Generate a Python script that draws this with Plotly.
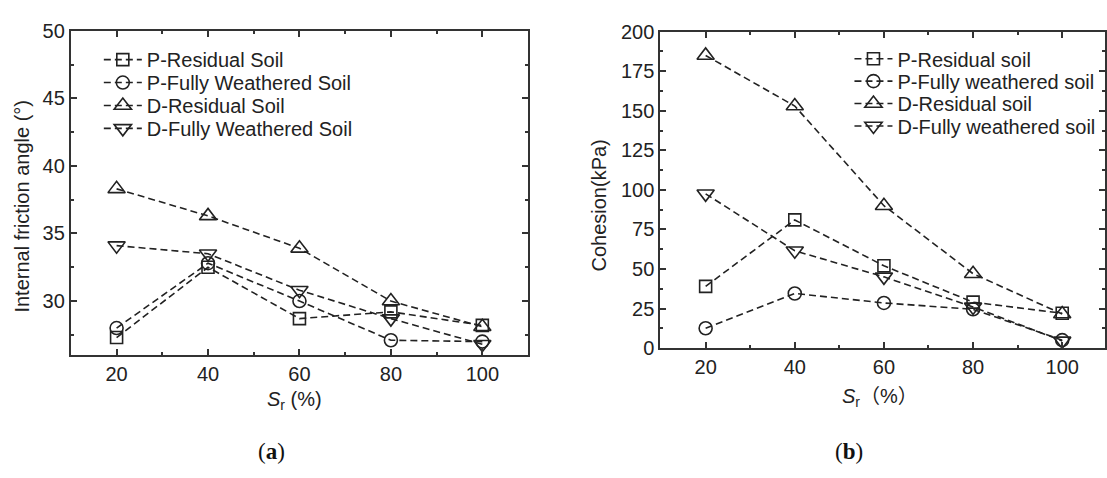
import plotly.graph_objects as go

# ---------------- data ----------------
sr = [20, 40, 60, 80, 100]

# (a) internal friction angle (deg)
phi_p_residual = [27.3, 32.5, 28.7, 29.2, 28.2]
phi_p_fully = [28.0, 32.8, 30.0, 27.1, 27.0]
phi_d_residual = [38.3, 36.3, 33.9, 30.0, 28.1]
phi_d_fully = [34.1, 33.5, 30.8, 28.7, 26.8]
names_a = ["P-Residual Soil", "P-Fully Weathered Soil", "D-Residual Soil", "D-Fully Weathered Soil"]

# (b) cohesion (kPa)
c_p_residual = [39, 81, 52, 29, 22]
c_p_fully = [12.5, 34.5, 28.5, 24.5, 5]
c_d_residual = [185, 153, 90, 47, 21.5]
c_d_fully = [97.5, 61.5, 45, 26, 4.5]
names_b = ["P-Residual soil", "P-Fully weathered soil", "D-Residual soil", "D-Fully weathered soil"]

symbols = ["square-open", "circle-open", "triangle-up-open", "triangle-down-open"]
sizes = [12, 13, 15, 15]

W, H = 1107, 478
def px(x):
    return x / W
def py(y):
    return 1 - y / H

INK = "#222222"
FONT = "Liberation Sans, Arial, Noto Sans CJK SC, sans-serif"

fig = go.Figure()

series_a = [phi_p_residual, phi_p_fully, phi_d_residual, phi_d_fully]
series_b = [c_p_residual, c_p_fully, c_d_residual, c_d_fully]

legend_ids_a = ["legend", "legend2", "legend3", "legend4"]
legend_ids_b = ["legend5", "legend6", "legend7", "legend8"]
rows_a = [51, 75, 99, 123]
rows_b = [50, 73.5, 97, 120.5]

for name, ys, sym, sz, lid in zip(names_a, series_a, symbols, sizes, legend_ids_a):
    fig.add_trace(go.Scatter(
        x=sr, y=ys, name=name, mode="lines+markers",
        line=dict(color=INK, width=1.6, dash="7px,4px"),
        marker=dict(symbol=sym, size=sz, color=INK, line=dict(width=1.6, color=INK)),
        xaxis="x", yaxis="y", legend=lid))

for name, ys, sym, sz, lid in zip(names_b, series_b, symbols, sizes, legend_ids_b):
    fig.add_trace(go.Scatter(
        x=sr, y=ys, name=name, mode="lines+markers",
        line=dict(color=INK, width=1.6, dash="7px,4px"),
        marker=dict(symbol=sym, size=sz, color=INK, line=dict(width=1.6, color=INK)),
        xaxis="x2", yaxis="y2", legend=lid))

axis_common = dict(
    showline=True, linecolor="#333333", linewidth=2, mirror="allticks",
    ticks="inside", ticklen=6, tickwidth=1.5, tickcolor="#333333",
    showgrid=False, zeroline=False,
    tickfont=dict(family=FONT, size=20, color=INK),
)

leg_common = dict(xanchor="left", yanchor="middle", bgcolor="rgba(0,0,0,0)",
                  itemwidth=38, font=dict(family=FONT, size=20, color=INK))

layout_legends = {}
for lid, r in zip(legend_ids_a, rows_a):
    layout_legends[lid] = dict(x=px(99), y=py(r), **leg_common)
for lid, r in zip(legend_ids_b, rows_b):
    layout_legends[lid] = dict(x=px(851), y=py(r), **leg_common)

fig.update_layout(
    width=W, height=H,
    margin=dict(l=0, r=0, t=0, b=0),
    paper_bgcolor="white", plot_bgcolor="white",
    font=dict(family=FONT, color=INK),
    xaxis=dict(domain=[px(71), px(529)], range=[10, 110], tick0=20, dtick=20,
               minor=dict(dtick=10, ticks="inside", ticklen=3, tickcolor="#333333"),
               anchor="y", **axis_common),
    yaxis=dict(domain=[py(360.7), py(20.7)], range=[26, 50], tick0=0, dtick=5,
               minor=dict(dtick=2.5, ticks="inside", ticklen=3, tickcolor="#333333"),
               anchor="x", **axis_common),
    xaxis2=dict(domain=[px(661.5), 1.0], range=[9.83, 109.6], tick0=20, dtick=20,
                minor=dict(dtick=10, ticks="inside", ticklen=3, tickcolor="#333333"),
                anchor="y2", **axis_common),
    yaxis2=dict(domain=[py(353.3), py(21.7)], range=[0, 200], tick0=0, dtick=25,
                minor=dict(dtick=12.5, ticks="inside", ticklen=3, tickcolor="#333333"),
                anchor="x2", **axis_common),
    showlegend=True,
    **layout_legends,
)

ann_font = dict(family=FONT, size=20, color=INK)
fig.add_annotation(x=px(22), y=py(204), xref="paper", yref="paper", text="Internal friction angle (°)",
                   textangle=-90, showarrow=False, font=ann_font, xanchor="center", yanchor="middle")
fig.add_annotation(x=px(600), y=py(204), xref="paper", yref="paper", text="Cohesion(kPa)",
                   textangle=-90, showarrow=False, font=ann_font, xanchor="center", yanchor="middle")
fig.add_annotation(x=px(295), y=py(408), xref="paper", yref="paper",
                   text="<i>S</i><sub>r</sub> (%)", showarrow=False, font=ann_font,
                   xanchor="center", yanchor="middle")
fig.add_annotation(x=px(882), y=py(405), xref="paper", yref="paper",
                   text="<i>S</i><sub>r</sub>\uff08%\uff09", showarrow=False, font=ann_font,
                   xanchor="center", yanchor="middle")

cap_font = dict(family="Liberation Serif, DejaVu Serif, serif", size=23, color="#111111")
fig.add_annotation(x=px(272), y=py(462), xref="paper", yref="paper", text="(<b>a</b>)",
                   showarrow=False, font=cap_font, xanchor="center", yanchor="middle")
fig.add_annotation(x=px(851), y=py(462), xref="paper", yref="paper", text="(<b>b</b>)",
                   showarrow=False, font=cap_font, xanchor="center", yanchor="middle")

# remove the browser's default body margin so the figure sits at the window origin
fig.write_html("out.html", config={"displayModeBar": False},
               post_script="document.body.style.margin='0';")
